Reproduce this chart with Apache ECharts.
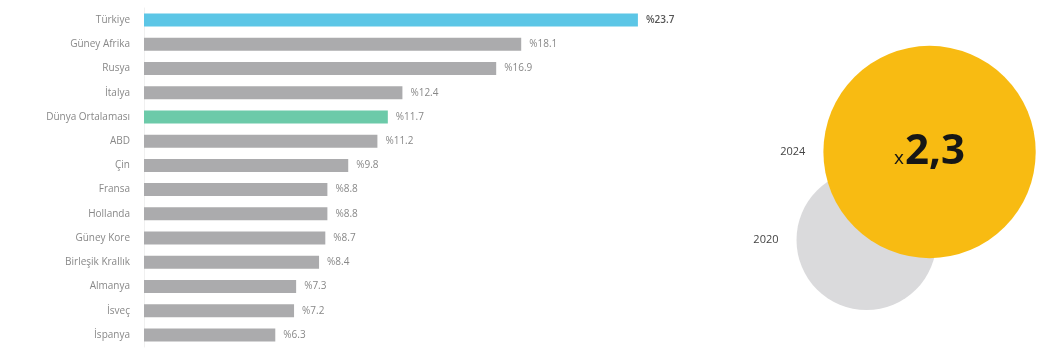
<!DOCTYPE html>
<html>
<head>
<meta charset="utf-8">
<script src="https://cdn.jsdelivr.net/npm/echarts@6/dist/echarts.min.js"></script>
<style>html,body{margin:0;padding:0;background:#fff}#c{width:1059px;height:356px}</style>
</head>
<body>
<div id="c"></div>
<script>
const categories = ['Türkiye','Güney Afrika','Rusya','İtalya','Dünya Ortalaması','ABD','Çin','Fransa','Hollanda','Güney Kore','Birleşik Krallık','Almanya','İsveç','İspanya'];
const values = [23.7, 18.1, 16.9, 12.4, 11.7, 11.2, 9.8, 8.8, 8.8, 8.7, 8.4, 7.3, 7.2, 6.3];
const bubbleYears = ['2020', '2024'];
const bubbleValues = [1, 2.3];

const FONT = '"Open Sans", "Noto Sans", sans-serif';
const colorFor = (name) => name === 'Türkiye' ? '#5cc6e6' : (name === 'Dünya Ortalaması' ? '#6ccaa9' : '#ababad');

const barData = values.map((v, i) => ({
  value: v,
  itemStyle: { color: colorFor(categories[i]) },
  label: categories[i] === 'Türkiye' ? { color: '#555', fontWeight: 600 } : undefined
}));

const bubbleData = bubbleValues.map((v, i) => ({
  value: [v, bubbleYears[i]],
  itemStyle: { color: i === 0 ? '#dadadc' : '#f8bb12', opacity: 1 }
}));

const chart = echarts.init(document.getElementById('c'), null, { renderer: 'canvas' });
chart.setOption({
  animation: false,
  backgroundColor: '#fff',
  textStyle: { fontFamily: FONT },
  grid: [
    { left: 144, top: 8, width: 521, height: 339 },
    { left: 818, top: 152, width: 194, height: 88 }
  ],
  xAxis: [
    { gridIndex: 0, type: 'value', min: 0, max: 25, show: false },
    { gridIndex: 1, type: 'value', min: 0, max: 4, show: false }
  ],
  yAxis: [
    {
      gridIndex: 0, type: 'category', data: categories, inverse: true,
      axisLine: { show: true, lineStyle: { color: '#f0f0f0' } },
      axisTick: { show: false },
      axisLabel: { color: '#888', fontSize: 10, margin: 14, fontFamily: FONT }
    },
    {
      gridIndex: 1, type: 'category', data: bubbleYears, boundaryGap: false, show: false
    }
  ],
  series: [
    {
      type: 'bar', xAxisIndex: 0, yAxisIndex: 0, data: barData, barWidth: 13,
      label: {
        show: true, position: 'right', distance: 8, color: '#888', fontSize: 10, fontFamily: FONT,
        formatter: (p) => '%' + p.value
      }
    },
    {
      type: 'scatter', xAxisIndex: 1, yAxisIndex: 1, data: bubbleData,
      symbolSize: (val) => 140 * Math.sqrt(val[0]),
      label: {
        show: true, position: 'left', distance: 18, color: '#444', fontSize: 11, fontFamily: FONT,
        formatter: (p) => p.value[1]
      },
      z: 2
    },
    {
      type: 'scatter', xAxisIndex: 1, yAxisIndex: 1,
      data: [[bubbleValues[1], bubbleYears[1]]],
      symbolSize: 0, silent: true, z: 5,
      itemStyle: { opacity: 1 },
      label: {
        show: true, position: 'inside', opacity: 1,
        formatter: (p) => '{x|x}{n|' + String(p.value[0]).replace('.', ',') + '}',
        rich: {
          x: { fontSize: 19, color: '#161616', fontFamily: FONT, lineHeight: 46, padding: [14, 1, 0, 0] },
          n: { fontSize: 42, fontWeight: 'bold', color: '#161616', fontFamily: FONT, lineHeight: 46 }
        }
      }
    }
  ]
});
</script>
</body>
</html>
